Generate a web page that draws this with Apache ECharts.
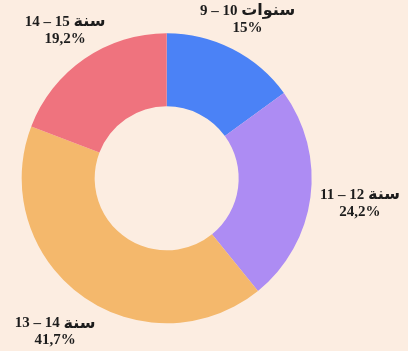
<!DOCTYPE html>
<html>
<head>
<meta charset="utf-8">
<script src="https://cdn.jsdelivr.net/npm/echarts@6/dist/echarts.min.js"></script>
<style>
  html, body { margin: 0; padding: 0; background: #fcede1; }
  #chart { width: 408px; height: 351px; }
</style>
</head>
<body>
<div id="chart"></div>
<script>
// Age groups: numeric range and unit word, with their share of the total (percent)
const ageRanges = ['9 – 10', '11 – 12', '13 – 14', '14 – 15'];
const ageUnits = ['سنوات', 'سنة', 'سنة', 'سنة'];
const shares = [15, 24.2, 41.7, 19.2];
const sliceColors = ['#4b82f6', '#ad8cf3', '#f4b86c', '#ef737e'];

const categories = ageRanges.map((r, i) => r + ' ' + ageUnits[i]);

const chart = echarts.init(document.getElementById('chart'), null, { renderer: 'canvas' });

const formatShare = v => String(v).replace('.', ',') + '%';

// Label placement along each slice's mid-angle ray
const LABEL_GAP = -4.5;      // base offset past the outer radius
const H_SPREAD = 1.3;        // weight of the label's half-width
const DOWN_BIAS = 6;         // pushes lower labels out, upper labels in

function placeLabel(params) {
  const layout = chart.getModel().getSeriesByIndex(0).getData().getItemLayout(params.dataIndex);
  const mid = (layout.startAngle + layout.endAngle) / 2;
  const ux = Math.cos(mid), uy = Math.sin(mid);
  const w = params.labelRect.width, h = params.labelRect.height;
  const extent = H_SPREAD * Math.abs(ux) * w / 2 + Math.abs(uy) * h / 2 + DOWN_BIAS * uy;
  const d = layout.r + LABEL_GAP + extent;
  return {
    x: layout.cx + ux * d,
    y: layout.cy + uy * d,
    align: 'center',
    verticalAlign: 'middle'
  };
}

const textColor = '#1c1c1c';

chart.setOption({
  backgroundColor: '#fcede1',
  animation: false,
  series: [{
    type: 'pie',
    center: ['40.85%', '50.8%'],
    radius: [72, 145],
    startAngle: 90,
    clockwise: true,
    avoidLabelOverlap: false,
    data: categories.map((name, i) => ({
      name: name,
      value: shares[i],
      itemStyle: { color: sliceColors[i] }
    })),
    label: {
      show: true,
      position: 'outside',
      alignTo: 'none',
      overflow: 'none',
      edgeDistance: 0,
      bleedMargin: 0,
      formatter: p => '{n|' + ageRanges[p.dataIndex] + ' }{ar|' + ageUnits[p.dataIndex] + '}\n{n|' + formatShare(p.value) + '}',
      fontFamily: '"Liberation Serif", serif',
      fontWeight: 'bold',
      fontSize: 15,
      lineHeight: 17,
      color: textColor,
      align: 'center',
      rich: {
        n: {
          fontFamily: '"Liberation Serif", serif',
          fontWeight: 'bold',
          fontSize: 15,
          lineHeight: 17,
          color: textColor
        },
        ar: {
          fontFamily: '"DejaVu Sans", sans-serif',
          fontWeight: 'bold',
          fontSize: 16,
          lineHeight: 17,
          color: textColor
        }
      }
    },
    labelLine: { show: false },
    labelLayout: placeLabel,
    emphasis: { disabled: true }
  }]
});
</script>
</body>
</html>
